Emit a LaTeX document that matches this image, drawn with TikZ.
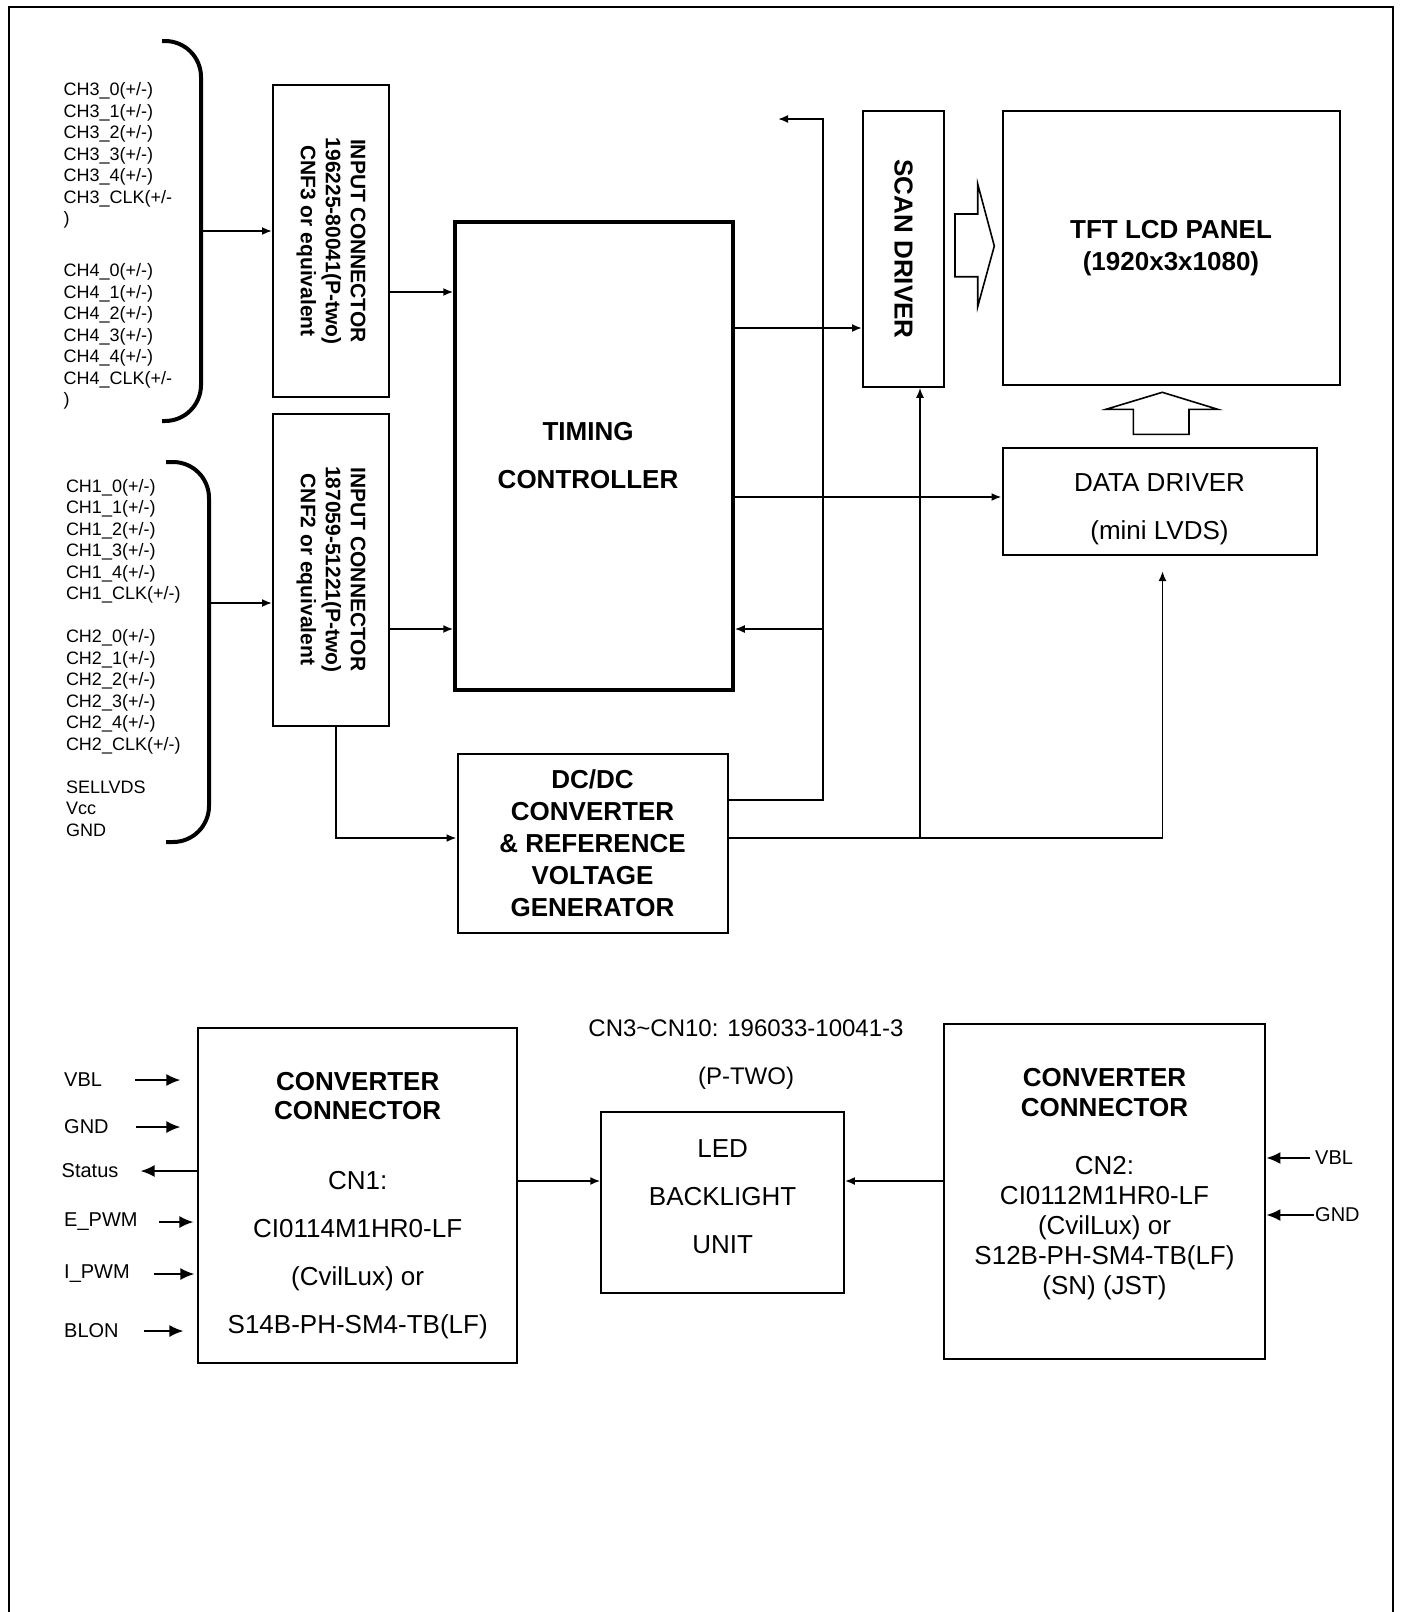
\documentclass[tikz,border=0pt]{standalone}
\usepackage{fontspec}
\setmainfont{Liberation Sans}
\usetikzlibrary{arrows.meta,positioning,calc}

\begin{document}
\begin{tikzpicture}[
    x=1pt, y=-1pt,
    box/.style={draw, line width=2pt, rectangle, inner sep=0pt, align=center},
    edge/.style={-{Latex[length=10pt,width=8pt]}, line width=1.8pt},
    sigedge/.style={-{Latex[length=14pt,width=12pt]}, line width=1.8pt},
    wire/.style={line width=1.8pt},
    brace/.style={line width=4pt, rounded corners=36pt},
    hollow/.style={draw, line width=1.6pt, line join=miter},
    chan/.style={font=\fontsize{18}{21.5}\selectfont, align=left, inner sep=0pt, anchor=north west},
    sig/.style={font=\fontsize{20}{24}\selectfont, inner sep=0pt, anchor=west},
    vtext/.style={font=\fontsize{21}{25}\bfseries\selectfont, rotate=-90, align=center, inner sep=0pt},
    head/.style={font=\fontsize{26}{32}\bfseries\selectfont},
    body/.style={font=\fontsize{26}{26}\selectfont},
    boxtext/.style={align=center, inner sep=0pt},
]
\useasboundingbox (0,0) rectangle (1403,1612);

% frame, open at the bottom
\draw[line width=2pt] (9,1620) -- (9,7) -- (1393,7) -- (1393,1620);

% LVDS input signals
\node[chan] (ch3) at (63.5,82.7) {CH3\_0(+/-)\\CH3\_1(+/-)\\CH3\_2(+/-)\\CH3\_3(+/-)\\CH3\_4(+/-)\\CH3\_CLK(+/-\\)};
\node[chan] (ch4) at (63.5,263.4) {CH4\_0(+/-)\\CH4\_1(+/-)\\CH4\_2(+/-)\\CH4\_3(+/-)\\CH4\_4(+/-)\\CH4\_CLK(+/-\\)};
\node[chan] (ch12) at (65.8,479.1) {CH1\_0(+/-)\\CH1\_1(+/-)\\CH1\_2(+/-)\\CH1\_3(+/-)\\CH1\_4(+/-)\\CH1\_CLK(+/-)\\[21.5pt]CH2\_0(+/-)\\CH2\_1(+/-)\\CH2\_2(+/-)\\CH2\_3(+/-)\\CH2\_4(+/-)\\CH2\_CLK(+/-)\\[21.5pt]SELLVDS\\Vcc\\GND};

% braces
\draw[brace] (162,41) -| (201,421) -- (162,421);
\draw[brace] (166,462) -| (209,842) -- (166,842);

% input connectors
\node[box, minimum width=116pt, minimum height=312pt] (cnf3) at (331,241) {};
\node[vtext] (cnf3txt) at (cnf3) {INPUT CONNECTOR\\196225-80041(P-two)\\CNF3 or equivalent};
\node[box, minimum width=116pt, minimum height=312pt] (cnf2) at (331,569.5) {};
\node[vtext] (cnf2txt) at (cnf2) {INPUT CONNECTOR\\187059-51221(P-two)\\CNF2 or equivalent};

% timing controller
\node[box, line width=3.5pt, minimum width=278pt, minimum height=468pt] (tcon) at (594,456) {};
\node[boxtext, head] (tcontxt) at (588,456) {TIMING\\[16pt]CONTROLLER};

% DC/DC converter
\node[box, head, minimum width=270pt, minimum height=179pt] (dcdc) at (592.5,843) {DC/DC\\CONVERTER\\\& REFERENCE\\VOLTAGE\\GENERATOR};

% scan driver
\node[box, minimum width=81pt, minimum height=275.5pt] (scan) at (903.5,249) {};
\node[head, rotate=-90, inner sep=0pt] (scantxt) at (scan) {SCAN DRIVER};

% panel and data driver
\node[box, head, minimum width=337pt, minimum height=274pt] (panel) at (1171,248) {TFT LCD PANEL\\(1920x3x1080)};
\node[box, minimum width=314pt, minimum height=107.6pt] (ddrv) at (1159.5,501.3) {};
\node[boxtext, body] (ddrvtxt) at (1159.5,509.5) {DATA DRIVER\\[22pt](mini LVDS)};

% hollow arrows
\draw[hollow] (955,214) -- (977.7,214) -- (977.7,184) -- (994.3,246) -- (977.7,306.7) -- (977.7,276.7) -- (955,276.7) -- cycle;
\draw[hollow] (1133.3,434.3) -- (1133.3,409.3) -- (1106,409.3) -- (1162.3,392.3) -- (1217.7,409.3) -- (1189,409.3) -- (1189,434.3) -- cycle;

% connections, upper part
\coordinate (br3) at (203,231);
\coordinate (br2) at (211,603);
\draw[edge] (br3) -- (br3 -| cnf3.west);
\draw[edge] (br2) -- (br2 -| cnf2.west);
\coordinate (in3) at (389,292);
\coordinate (in2) at (389,629);
\draw[edge] (in3 -| cnf3.east) -- (in3 -| tcon.west);
\draw[edge] (in2 -| cnf2.east) -- (in2 -| tcon.west);
\coordinate (pw) at (336,838);
\draw[edge] (pw |- cnf2.south) -- (pw) -- (pw -| dcdc.west);
\coordinate (fb) at (823,800);
\coordinate (fbtop) at (823,119);
\coordinate (fbend) at (778,119);
\draw[edge] (fb -| dcdc.east) -- (fb) -- (fbtop) -- (fbend);
\draw[edge] (fb |- in2) -- (in2 -| tcon.east);
\coordinate (sc) at (733,328);
\draw[edge] (sc -| tcon.east) -- (sc -| scan.west);
\coordinate (dd) at (733,497);
\draw[edge] (dd -| tcon.east) -- (dd -| ddrv.west);
\coordinate (vg) at (920,838);
\coordinate (vd) at (1162.5,838);
\draw[wire] (pw -| dcdc.east) -- (vd);
\draw[edge] (vg) -- (vg |- scan.south);
\draw[edge, shorten >=15pt] (vd) -- (vd |- ddrv.south);

% backlight part
\node[box, minimum width=318.6pt, minimum height=334.5pt] (cc1) at (357.7,1195.3) {};
\node[boxtext, font=\fontsize{26}{29}\selectfont] (cc1txt) at (357.7,1205.5) {{\bfseries CONVERTER}\\{\bfseries CONNECTOR}\\[41pt]CN1:\\[19pt]CI0114M1HR0-LF\\[19pt](CvilLux) or\\[19pt]S14B-PH-SM4-TB(LF)};
\node[font=\fontsize{24}{48}\selectfont, align=center] (cnote) at (746,1055) {CN3\textasciitilde CN10: 196033-10041-3\\(P-TWO)};
\node[box, minimum width=242.6pt, minimum height=181pt] (led) at (722.6,1202.8) {};
\node[boxtext, font=\fontsize{26}{48.3}\selectfont] (ledtxt) at (722.6,1196.6) {LED\\BACKLIGHT\\UNIT};
\node[box, minimum width=321.8pt, minimum height=335pt] (cc2) at (1104.5,1191.5) {};
\node[boxtext, font=\fontsize{26}{30}\selectfont] (cc2txt) at (1104.5,1184.3) {{\bfseries CONVERTER}\\{\bfseries CONNECTOR}\\[27.5pt]CN2:\\CI0112M1HR0-LF\\(CvilLux) or\\S12B-PH-SM4-TB(LF)\\(SN) (JST)};

\coordinate (bl) at (517,1181);
\draw[edge] (bl -| cc1.east) -- (bl -| led.west);
\draw[edge] (bl -| cc2.west) -- (bl -| led.east);

% converter signals
\node[sig] (vbl1) at (64,1080) {VBL};
\node[sig] (gnd1) at (64,1127) {GND};
\node[sig] (stat) at (61.5,1171) {Status};
\node[sig] (epwm) at (64,1222) {E\_PWM};
\node[sig] (ipwm) at (64,1274) {I\_PWM};
\node[sig] (blon) at (64,1331) {BLON};
\draw[sigedge, shorten <=33pt, shorten >=17pt] (vbl1.east) -- (vbl1.east -| cc1.west);
\draw[sigedge, shorten <=27pt, shorten >=17pt] (gnd1.east) -- (gnd1.east -| cc1.west);
\draw[sigedge, shorten >=22pt] (stat.east -| cc1.west) -- (stat.east);
\draw[sigedge, shorten <=21pt, shorten >=4pt] (epwm.east) -- (epwm.east -| cc1.west);
\draw[sigedge, shorten <=24pt, shorten >=3pt] (ipwm.east) -- (ipwm.east -| cc1.west);
\draw[sigedge, shorten <=25pt, shorten >=14pt] (blon.east) -- (blon.east -| cc1.west);

\node[sig] (vbl2) at (1315,1158) {VBL};
\node[sig] (gnd2) at (1315,1215) {GND};
\draw[sigedge, shorten <=5pt] (vbl2.west) -- (vbl2.west -| cc2.east);
\draw[sigedge, shorten <=1pt] (gnd2.west) -- (gnd2.west -| cc2.east);

\end{tikzpicture}
\end{document}
